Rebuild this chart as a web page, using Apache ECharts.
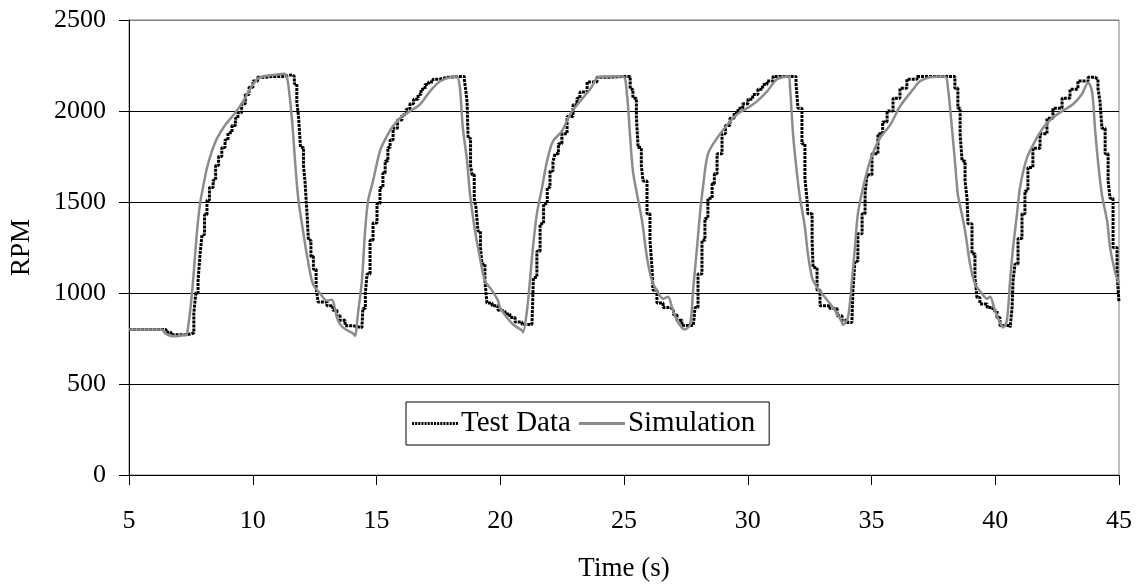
<!DOCTYPE html>
<html>
<head>
<meta charset="utf-8">
<script src="https://cdn.jsdelivr.net/npm/echarts@6/dist/echarts.min.js"></script>
<style>html,body{margin:0;padding:0;background:#fff}#c{width:1137px;height:586px}</style>
</head>
<body>
<div id="c"></div>
<script>
var yTicks = [0, 500, 1000, 1500, 2000, 2500];
var xTicks = [5, 10, 15, 20, 25, 30, 35, 40, 45];
var seriesNames = ['Test Data', 'Simulation'];

var testT = [5.0,6.33,6.5,6.7,7.3,7.5,
 7.62,7.70,7.79,7.87,7.95,8.05,8.15,8.25,8.40,8.5,8.62,8.75,8.88,9.0,9.16,9.3,9.40,9.55,9.7,9.85,10.01,10.2,10.5,10.82,11.3,11.59,11.68,11.78,11.85,11.93,12.05,12.11,12.19,12.25,12.35,12.45,12.56,12.64,13.0,13.24,13.4,13.53,13.73,14.05,14.41,
 14.45,14.55,14.62,14.74,14.86,15.02,15.14,15.26,15.35,15.46,15.55,15.67,15.85,16.03,16.2,16.35,16.5,16.68,16.8,16.96,17.1,17.28,17.55,17.85,18.45,18.55,18.62,18.66,18.70,18.8,18.86,18.95,19.02,19.10,19.2,19.26,19.38,19.46,19.67,19.91,20.05,20.19,20.39,20.6,20.88,21.28,
 21.30,21.34,21.48,21.61,21.75,21.90,22.01,22.13,22.21,22.35,22.49,22.70,22.94,23.1,23.22,23.51,23.91,24.3,25.12,25.25,25.36,25.50,25.57,25.70,25.77,25.93,26.05,26.13,26.17,26.33,26.58,26.86,27.0,27.14,27.34,27.8,
 27.87,27.99,28.15,28.27,28.39,28.56,28.65,28.76,28.96,29.1,29.28,29.45,29.61,29.8,30.01,30.2,30.41,30.6,30.78,31.02,31.83,31.95,32.03,32.19,32.31,32.39,32.43,32.60,32.64,32.80,32.92,33.32,33.61,33.81,34.01,34.21,
 34.25,34.33,34.45,34.62,34.74,34.82,35.02,35.26,35.45,35.63,35.87,36.15,36.43,36.84,38.25,38.37,38.49,38.58,38.66,38.78,38.86,38.90,39.06,39.18,39.26,39.38,39.67,39.91,40.07,40.19,40.60,
 40.68,40.72,40.80,40.92,41.08,41.20,41.32,41.52,41.81,42.09,42.33,42.70,43.02,43.34,43.75,44.03,44.15,44.23,44.31,44.44,44.56,44.64,44.76,44.92,45.0];
var testV = [800,800,785,770,775,780,
 890,1000,1070,1210,1320,1430,1510,1580,1620,1700,1750,1800,1840,1880,1920,1960,1990,2040,2090,2130,2165,2185,2190,2190,2200,2190,2150,2050,1970,1800,1700,1615,1440,1290,1200,1130,1030,950,930,905,875,850,820,810,810,
 915,1000,1105,1290,1385,1490,1580,1660,1725,1800,1840,1905,1950,1980,2010,2040,2065,2090,2120,2145,2160,2175,2185,2190,2190,2170,2100,2050,1850,1700,1650,1520,1470,1340,1250,1160,1070,945,930,905,900,885,865,840,827,820,
 905,1085,1230,1380,1490,1580,1670,1720,1765,1820,1875,1970,2035,2070,2105,2160,2185,2190,2190,2120,2070,1970,1800,1700,1615,1435,1290,1140,1015,945,920,910,880,850,822,822,
 920,1105,1290,1410,1520,1600,1655,1765,1875,1920,1960,1990,2015,2040,2065,2090,2120,2145,2165,2190,2190,2150,2015,1820,1630,1520,1435,1290,1140,1015,930,915,875,850,838,849,
 1015,1175,1325,1435,1545,1650,1765,1875,1940,2000,2070,2125,2175,2190,2190,2125,2015,1875,1725,1615,1520,1380,1215,1085,975,940,920,903,865,821,810,
 920,1070,1160,1300,1435,1560,1690,1795,1875,1960,2015,2070,2120,2165,2185,2175,2125,2055,1905,1765,1615,1520,1250,1105,950];

var simT = [5.0,6.33,6.45,6.66,6.86,7.26,7.34,7.46,7.59,7.75,7.87,7.99,8.15,8.35,8.56,8.88,9.28,9.61,10.01,10.29,10.98,11.30,11.42,11.59,11.71,11.83,12.03,12.23,12.43,12.72,13.0,13.20,13.32,13.44,13.65,14.05,14.13,14.25,14.41,14.54,14.66,14.86,15.14,15.42,15.67,16.03,16.35,16.76,17.16,17.57,17.97,18.25,18.37,18.49,18.66,18.78,18.98,19.18,19.38,19.67,19.91,19.99,20.27,20.52,20.88,20.92,21.08,21.20,21.32,21.48,21.69,21.89,22.13,22.49,22.82,23.22,23.63,23.95,24.31,24.96,25.12,25.24,25.36,25.53,25.73,25.93,26.13,26.33,26.58,26.78,26.94,27.14,27.34,27.46,27.67,27.79,27.95,28.07,28.19,28.39,28.76,29.16,29.57,29.97,30.37,30.78,31.18,31.63,31.71,31.83,31.99,32.11,32.19,32.31,32.43,32.60,32.80,33.04,33.32,33.61,33.81,33.85,34.05,34.21,34.33,34.45,34.66,34.94,35.34,35.75,36.15,36.68,36.96,37.36,37.97,38.09,38.25,38.37,38.49,38.58,38.78,38.98,39.18,39.46,39.67,39.79,39.99,40.19,40.31,40.47,40.60,40.72,40.88,41.00,41.28,41.61,41.93,42.29,42.70,43.14,43.50,43.75,43.91,44.03,44.15,44.31,44.52,44.64,44.84,45.0];
var simV = [800,800,780,765,762,770,775,887,1068,1342,1490,1580,1687,1780,1851,1922,1988,2053,2147,2185,2201,2205,2160,1944,1725,1530,1342,1177,1051,997,958,963,914,850,810,778,765,887,1068,1342,1506,1615,1780,1862,1917,1971,1999,2037,2108,2163,2185,2190,2125,1906,1725,1540,1342,1194,1068,1013,958,920,865,827,794,785,903,1068,1249,1435,1580,1725,1834,1889,1982,2053,2119,2185,2190,2190,2090,1873,1670,1540,1396,1194,1068,1013,969,980,920,849,810,800,827,1013,1249,1435,1580,1763,1851,1922,1982,2015,2053,2108,2174,2190,2125,1873,1654,1522,1460,1360,1216,1084,1030,990,942,887,838,825,865,1068,1249,1435,1580,1725,1851,1922,2025,2119,2163,2185,2190,2125,1906,1725,1540,1480,1342,1161,1051,997,969,980,903,838,810,849,1068,1249,1435,1580,1742,1834,1906,1960,1999,2037,2092,2155,2108,1906,1725,1540,1396,1249,1117,1051];

function pairs(t, v) { return t.map(function (x, i) { return [x, v[i]]; }); }

var FONT = '"Liberation Serif", "Times New Roman", serif';
var dottedIcon = 'path://M0,0h2v2h-2zM3,0h2v2h-2zM6,0h2v2h-2zM9,0h2v2h-2zM12,0h2v2h-2zM15,0h2v2h-2zM18,0h2v2h-2zM21,0h2v2h-2zM24,0h2v2h-2zM27,0h2v2h-2zM30,0h2v2h-2zM33,0h2v2h-2zM36,0h2v2h-2zM39,0h2v2h-2zM42,0h2v2h-2z';
var solidIcon = 'path://M0,0.3h44v1.4h-44z';

var chart = echarts.init(document.getElementById('c'), null, { renderer: 'canvas' });
chart.setOption({
  animation: false,
  backgroundColor: '#fff',
  grid: { left: 129, right: 18, top: 20, bottom: 111, outerBoundsMode: 'none', containLabel: false,
    show: true, borderColor: '#808080', borderWidth: 1, backgroundColor: 'transparent' },
  legend: {
    left: 406, top: 402,
    orient: 'horizontal',
    padding: [7, 14, 7, 6],
    itemGap: 8,
    itemWidth: 46, itemHeight: 3,
    symbolKeepAspect: false,
    borderColor: '#000', borderWidth: 1,
    backgroundColor: '#fff',
    textStyle: { fontFamily: FONT, fontSize: 29, color: '#000', padding: [0, 0, 0, -2] },
    data: [
      { name: seriesNames[0], icon: dottedIcon },
      { name: seriesNames[1], icon: solidIcon }
    ]
  },
  xAxis: {
    type: 'value', min: 5, max: 45, interval: 5,
    name: 'Time (s)', nameLocation: 'middle', nameGap: 80,
    nameTextStyle: { fontFamily: FONT, fontSize: 27, color: '#000' },
    axisLine: { lineStyle: { color: '#000', width: 1 } },
    axisTick: { show: true, inside: false, length: 10, lineStyle: { color: '#000' } },
    axisLabel: { margin: 33, fontFamily: FONT, fontSize: 26, color: '#000',
      formatter: function (v) { return xTicks.indexOf(v) >= 0 ? String(v) : ''; } },
    splitLine: { show: false }
  },
  yAxis: {
    type: 'value', min: 0, max: 2500, interval: 500,
    name: 'RPM', nameLocation: 'middle', nameGap: 94, nameRotate: 90,
    nameTextStyle: { fontFamily: FONT, fontSize: 27, color: '#000' },
    axisLine: { show: true, lineStyle: { color: '#000', width: 1 } },
    axisTick: { show: true, inside: false, length: 10, lineStyle: { color: '#000' } },
    axisLabel: { margin: 23, fontFamily: FONT, fontSize: 26, color: '#000',
      formatter: function (v) { return yTicks.indexOf(v) >= 0 ? String(v) : ''; } },
    splitLine: { show: true, lineStyle: { color: ['#000', '#000', '#000', '#000', '#000', '#808080'], width: 1 } }
  },
  series: [
    {
      name: seriesNames[0], type: 'line', step: 'end', showSymbol: false, symbol: 'none',
      data: pairs(testT, testV),
      lineStyle: { color: '#000', width: 3, type: [3, 1] },
      itemStyle: { color: '#000' },
      z: 2
    },
    {
      name: seriesNames[1], type: 'line', smooth: 0.3, showSymbol: false, symbol: 'none',
      data: pairs(simT, simV),
      lineStyle: { color: '#8c8c8c', width: 2.5 },
      itemStyle: { color: '#8c8c8c' },
      z: 3
    }
  ]
});
</script>
</body>
</html>
